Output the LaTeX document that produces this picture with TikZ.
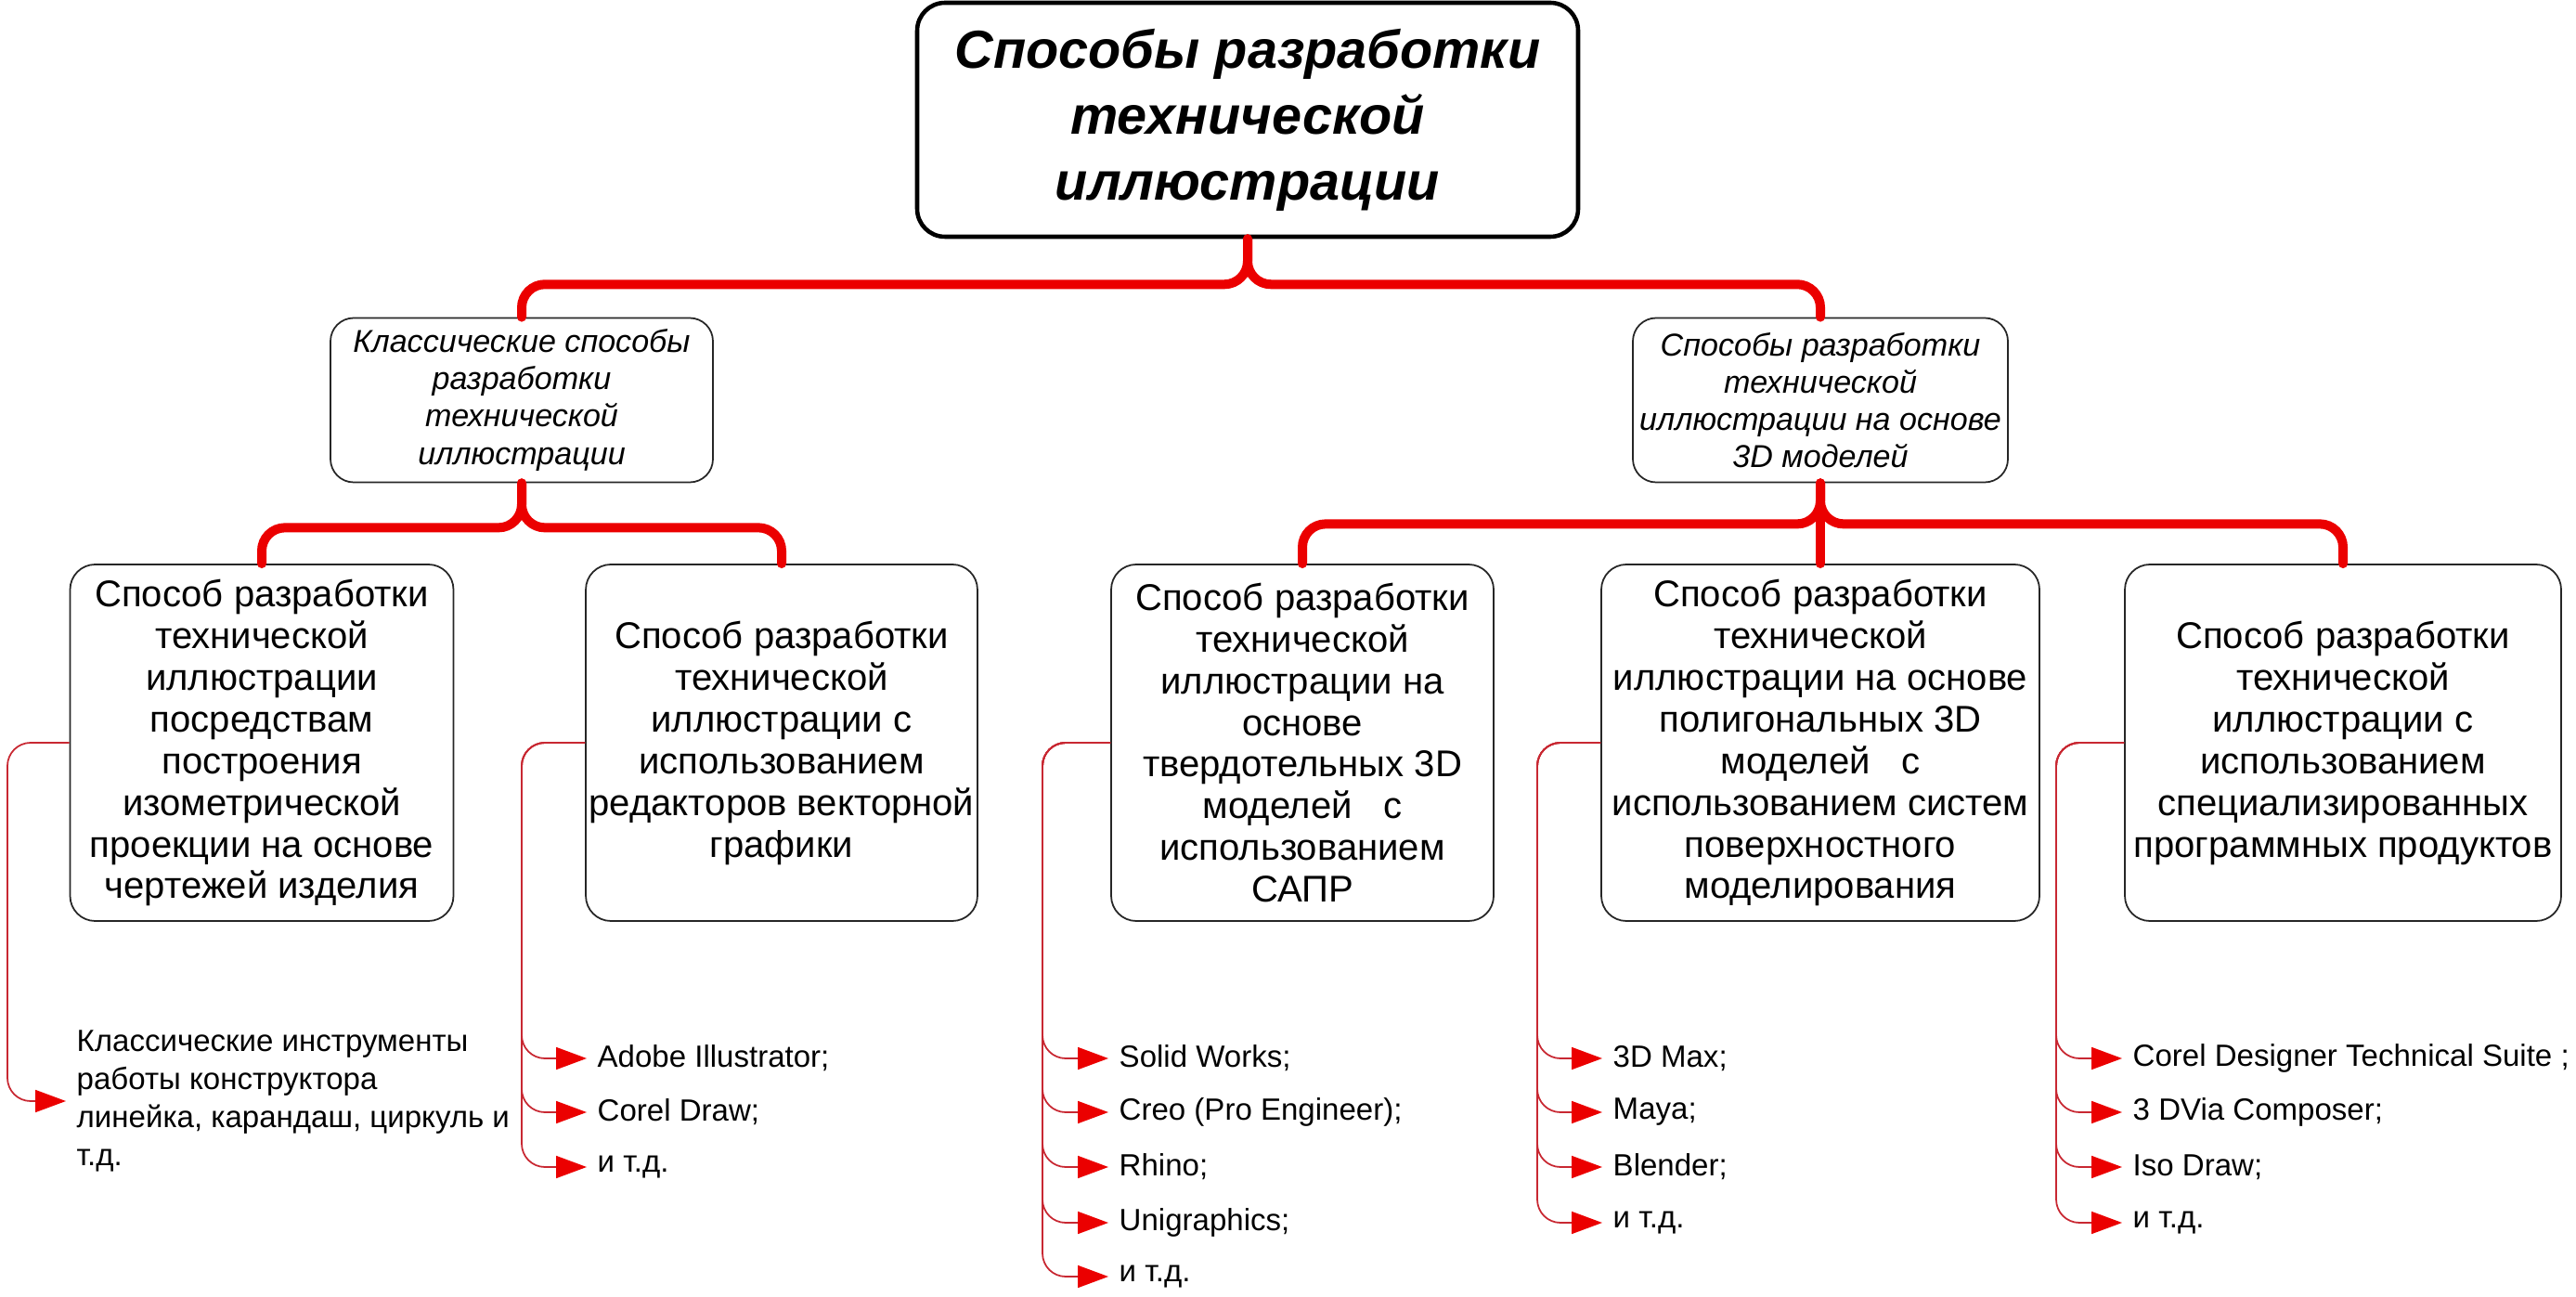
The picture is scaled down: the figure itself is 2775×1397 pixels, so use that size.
\documentclass[tikz,border=0pt]{standalone}
\usepackage{fontspec}
\setmainfont{Liberation Sans}
\usetikzlibrary{arrows.meta}

\definecolor{trunkred}{RGB}{235,0,0}
\definecolor{listred}{RGB}{200,40,50}
\definecolor{tipred}{RGB}{235,0,0}

\begin{document}
\begin{tikzpicture}[
    x=0.1mm, y=-0.1mm,
    titlebox/.style={draw, line width=1.3pt, rounded corners=3mm,
                minimum width=71.2mm, minimum height=25.2mm, align=center,
                font=\fontsize{16.4}{20.2}\selectfont\bfseries\itshape},
    groupbox/.style={draw=black!85, line width=0.5pt, rounded corners=2.5mm,
                minimum height=17.7mm, align=center, inner sep=1pt,
                font=\fontsize{9.7}{11.4}\selectfont\itshape},
    waybox/.style={draw=black!85, line width=0.5pt, rounded corners=2.7mm,
                minimum height=38.4mm, align=center, inner sep=1pt,
                font=\fontsize{11.4}{12.8}\selectfont},
    tool/.style={anchor=west, inner sep=0pt, align=left,
                font=\fontsize{9.4}{11.7}\selectfont},
    trunk/.style={draw=trunkred, line width=1mm, rounded corners=2.5mm, line cap=round},
    branch/.style={draw=listred, line width=0.5pt, rounded corners=2.5mm,
                -{Triangle[length=3.3mm, width=2.4mm, color=tipred, fill=tipred]},
                shorten >=1.1mm}
]
\useasboundingbox (0,0) rectangle (2775,1397);

\node (top) [titlebox] at (1344,129) {Способы разработки\\технической\\иллюстрации};

\node (cls) [groupbox, minimum width=41.2mm] at (562,431) {Классические способы\\разработки\\технической\\иллюстрации};
\node (mdl) [groupbox, minimum width=40.4mm] at (1961,431) {Способы разработки\\технической\\иллюстрации на основе\\3D моделей};

\node (iso) [waybox, minimum width=41.3mm] at (282,800) {Способ разработки\\технической\\иллюстрации\\посредствам\\построения\\изометрической\\проекции на основе\\чертежей изделия};
\node (vec) [waybox, minimum width=41.5mm] at (842,800) {Способ разработки\\технической\\иллюстрации с\\использованием\\редакторов векторной\\графики};
\node (cad) [waybox, minimum width=41.2mm] at (1403,800) {Способ разработки\\технической\\иллюстрации на\\основе\\твердотельных 3D\\моделей~~~с\\использованием\\САПР};
\node (pol) [waybox, minimum width=47.2mm] at (1961,800) {Способ разработки\\технической\\иллюстрации на основе\\полигональных 3D\\моделей~~~с\\использованием систем\\поверхностного\\моделирования};
\node (spc) [waybox, minimum width=47mm] at (2524,800) {Способ разработки\\технической\\иллюстрации с\\использованием\\специализированных\\программных продуктов};

% tools
\node (iso1) [tool] at (82,1186) {Классические инструменты\\работы конструктора\\линейка, карандаш, циркуль и\\т.д.};

\node (vec1) [tool] at (643,1140) {Adobe Illustrator;};
\node (vec2) [tool] at (643,1198) {Corel Draw;};
\node (vec3) [tool] at (643,1257) {и т.д.};

\node (cad1) [tool] at (1205,1140) {Solid Works;};
\node (cad2) [tool] at (1205,1198) {Creo (Pro Engineer);};
\node (cad3) [tool] at (1205,1257) {Rhino;};
\node (cad4) [tool] at (1205,1317) {Unigraphics;};
\node (cad5) [tool] at (1205,1375) {и т.д.};

\node (pol1) [tool] at (1737,1140) {3D Max;};
\node (pol2) [tool] at (1737,1198) {Maya;};
\node (pol3) [tool] at (1737,1257) {Blender;};
\node (pol4) [tool] at (1737,1317) {и т.д.};

\node (spc1) [tool] at (2297,1140) {Corel Designer Technical Suite ;};
\node (spc2) [tool] at (2297,1198) {3 DVia Composer;};
\node (spc3) [tool] at (2297,1257) {Iso Draw;};
\node (spc4) [tool] at (2297,1317) {и т.д.};

\coordinate (isoV) at (8,800);
\coordinate (vecV) at (562,800);
\coordinate (cadV) at (1123,800);
\coordinate (polV) at (1656,800);
\coordinate (spcV) at (2215,800);

% tree
\draw [trunk] (top.south) -- ++(0,49) -| (cls.north);
\draw [trunk] (top.south) -- ++(0,49) -| (mdl.north);
\draw [trunk] (cls.south) -- ++(0,48) -| (iso.north);
\draw [trunk] (cls.south) -- ++(0,48) -| (vec.north);
\draw [trunk] (mdl.south) -- ++(0,44) -| (cad.north);
\draw [trunk] (mdl.south) -- ++(0,44) -| (spc.north);
\draw [trunk] (mdl.south) -- (pol.north);

% lists
\draw [branch] (iso.west) -- (isoV) |- (iso1.west);

\draw [branch] (vec.west) -- (vecV) |- (vec1.west);
\draw [branch] (vec.west) -- (vecV) |- (vec2.west);
\draw [branch] (vec.west) -- (vecV) |- (vec3.west);

\draw [branch] (cad.west) -- (cadV) |- (cad1.west);
\draw [branch] (cad.west) -- (cadV) |- (cad2.west);
\draw [branch] (cad.west) -- (cadV) |- (cad3.west);
\draw [branch] (cad.west) -- (cadV) |- (cad4.west);
\draw [branch] (cad.west) -- (cadV) |- (cad5.west);

\draw [branch] (pol.west) -- (polV) |- (pol1.west);
\draw [branch] (pol.west) -- (polV) |- (pol2.west);
\draw [branch] (pol.west) -- (polV) |- (pol3.west);
\draw [branch] (pol.west) -- (polV) |- (pol4.west);

\draw [branch] (spc.west) -- (spcV) |- (spc1.west);
\draw [branch] (spc.west) -- (spcV) |- (spc2.west);
\draw [branch] (spc.west) -- (spcV) |- (spc3.west);
\draw [branch] (spc.west) -- (spcV) |- (spc4.west);

\end{tikzpicture}
\end{document}
